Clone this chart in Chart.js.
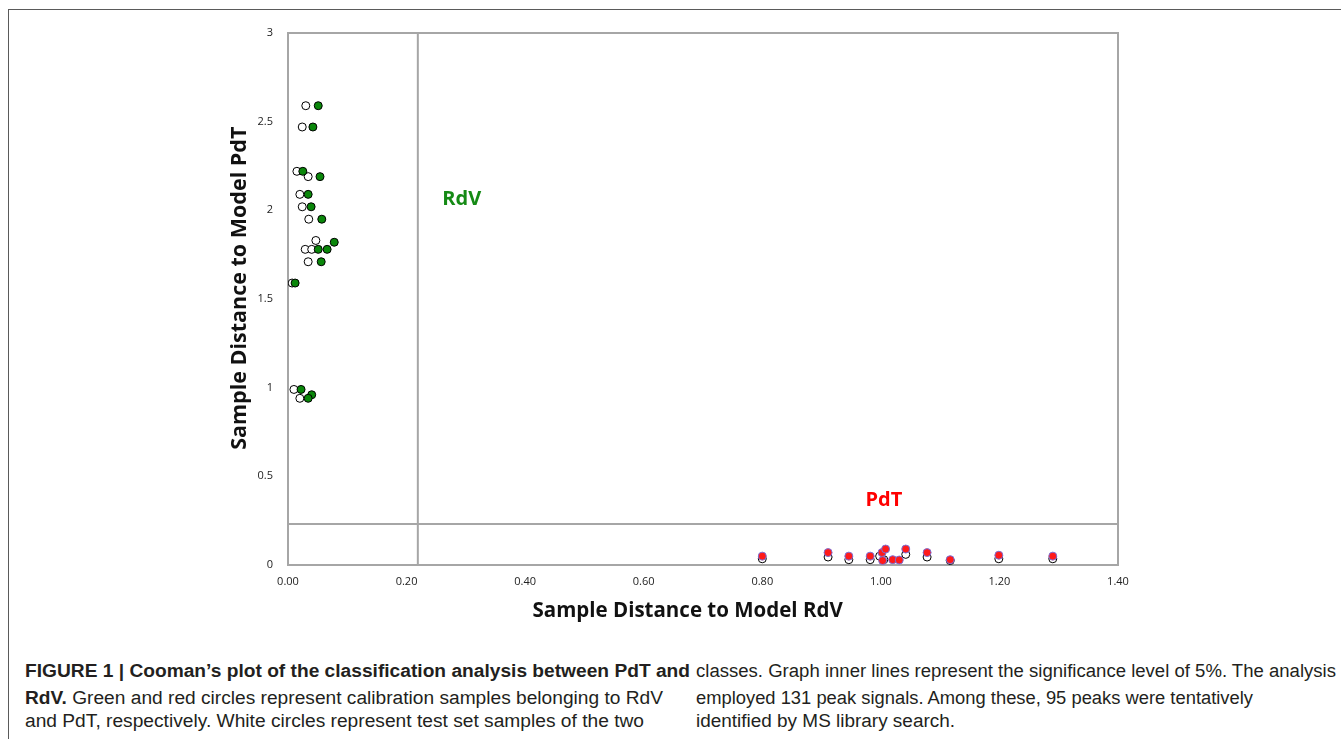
<!DOCTYPE html>
<html>
<head>
<meta charset="utf-8">
<script src="https://cdn.jsdelivr.net/npm/chart.js@4.4.1/dist/chart.umd.min.js"></script>
<style>
  html, body { margin: 0; padding: 0; background: #fff; }
  body { width: 1341px; height: 739px; position: relative; overflow: hidden; }
  #frame { position: absolute; left: 8px; top: 9px; width: 1340px; height: 740px;
           border-top: 1.5px solid #5a5a5a; border-left: 1.5px solid #5a5a5a; }
  #wrap { position: absolute; left: 0; top: 0; width: 1341px; height: 640px; }
  .cap { position: absolute; font-family: "Liberation Sans", Arial, sans-serif;
         font-size: 18px; color: #231f20; white-space: nowrap; transform-origin: 0 50%; line-height: 20px; }
  .cap b { font-weight: bold; }
</style>
</head>
<body>
<div id="frame"></div>
<div id="wrap"><canvas id="c"></canvas></div>

<div class="cap" data-w="665" style="left:25px; top:661px;"><b>FIGURE 1 | Cooman’s plot of the classification analysis between PdT and</b></div>
<div class="cap" data-w="638" style="left:25px; top:688px;"><b>RdV.</b> Green and red circles represent calibration samples belonging to RdV</div>
<div class="cap" data-w="619" style="left:25px; top:711px;">and PdT, respectively. White circles represent test set samples of the two</div>
<div class="cap" data-w="640" style="left:696px; top:661px;">classes. Graph inner lines represent the significance level of 5%. The analysis</div>
<div class="cap" data-w="557" style="left:696px; top:688px;">employed 131 peak signals. Among these, 95 peaks were tentatively</div>
<div class="cap" data-w="259" style="left:696px; top:711px;">identified by MS library search.</div>

<script>
// ---- data ----
const rdvCalX  = [0.051, 0.042, 0.025, 0.054, 0.034, 0.039, 0.057, 0.078, 0.051, 0.066, 0.056, 0.012, 0.022, 0.040, 0.034];
const rdvCalY  = [2.59, 2.47, 2.22, 2.19, 2.09, 2.02, 1.95, 1.82, 1.78, 1.78, 1.71, 1.59, 0.99, 0.96, 0.94];
const rdvTestX = [0.030, 0.024, 0.015, 0.034, 0.020, 0.024, 0.035, 0.047, 0.029, 0.040, 0.034, 0.007, 0.010, 0.020];
const rdvTestY = [2.59, 2.47, 2.22, 2.19, 2.09, 2.02, 1.95, 1.83, 1.78, 1.78, 1.71, 1.59, 0.99, 0.94];
const pdtCalX  = [0.800, 0.911, 0.946, 0.982, 1.002, 1.008, 1.003, 1.020, 1.031, 1.042, 1.078, 1.117, 1.199, 1.290];
const pdtCalY  = [0.050, 0.070, 0.050, 0.050, 0.070, 0.090, 0.025, 0.030, 0.028, 0.090, 0.070, 0.030, 0.055, 0.050];
const pdtTestX = [0.800, 0.911, 0.946, 0.982, 0.998, 1.005, 1.042, 1.078, 1.117, 1.199, 1.290];
const pdtTestY = [0.035, 0.045, 0.030, 0.030, 0.050, 0.030, 0.060, 0.045, 0.025, 0.035, 0.035];
const critRdV = 0.219;   // significance limit, distance to model RdV
const critPdT = 0.231;   // significance limit, distance to model PdT
const xTicks = ["0.00", "0.20", "0.40", "0.60", "0.80", "1.00", "1.20", "1.40"];
const yTicks = ["0", "0.5", "1", "1.5", "2", "2.5", "3"];
const classLabels = ["RdV", "PdT"];
const classLabelX = [0.293, 1.005];
const classLabelY = [2.064, 0.367];
const classColors = ["#158a15", "#ff0000"];

const pts = (xs, ys) => xs.map((x, i) => ({ x: x, y: ys[i] }));

const labelPlugin = {
  id: 'classLabels',
  afterDatasetsDraw(chart) {
    const ctx = chart.ctx, sx = chart.scales.x, sy = chart.scales.y;
    ctx.save();
    ctx.font = 'bold 20px "Open Sans", sans-serif';
    ctx.textAlign = 'center';
    ctx.textBaseline = 'middle';
    classLabels.forEach((t, i) => {
      ctx.fillStyle = classColors[i];
      ctx.fillText(t, sx.getPixelForValue(classLabelX[i]), sy.getPixelForValue(classLabelY[i]));
    });
    ctx.restore();
  }
};

const gray = '#a6a6a6';
const tickFont = { family: '"Open Sans", sans-serif', size: 11 };
const titleFontX = { family: '"Open Sans", sans-serif', size: 20.5, weight: 'bold' };
const titleFontY = { family: '"Open Sans", sans-serif', size: 21.5, weight: 'bold' };

new Chart(document.getElementById('c'), {
  type: 'scatter',
  data: {
    datasets: [
      { label: 'RdV calibration', data: pts(rdvCalX, rdvCalY), backgroundColor: '#0a870a', borderColor: '#000', borderWidth: 1, pointRadius: 4, order: 0 },
      { label: 'PdT calibration', data: pts(pdtCalX, pdtCalY), backgroundColor: '#ff1a1a', borderColor: '#7b6fd6', borderWidth: 1, pointRadius: 4, order: 0 },
      { label: 'RdV test', data: pts(rdvTestX, rdvTestY), backgroundColor: '#fff', borderColor: '#000', borderWidth: 1, pointRadius: 4, order: 1 },
      { label: 'PdT test', data: pts(pdtTestX, pdtTestY), backgroundColor: '#fff', borderColor: '#000', borderWidth: 1, pointRadius: 4, order: 1 },
      { label: 'limit RdV', data: [{ x: critRdV, y: 0 }, { x: critRdV, y: 3 }], showLine: true, borderColor: gray, borderWidth: 2, pointRadius: 0, order: 2 },
      { label: 'limit PdT', data: [{ x: 0, y: critPdT }, { x: 1.4, y: critPdT }], showLine: true, borderColor: gray, borderWidth: 2, pointRadius: 0, order: 2 }
    ]
  },
  options: {
    responsive: true,
    maintainAspectRatio: false,
    animation: false,
    events: [],
    layout: { padding: { left: 227, right: 223, top: 33, bottom: 17 } },
    plugins: { legend: { display: false }, tooltip: { enabled: false } },
    scales: {
      x: {
        type: 'linear', min: 0, max: 1.4,
        afterFit: s => { s.height = 58; },
        afterBuildTicks: s => { s.ticks = xTicks.map(v => ({ value: parseFloat(v) })); },
        ticks: { callback: (v, i) => xTicks[i], color: '#222', font: tickFont, padding: 10, maxRotation: 0 },
        grid: { display: false, drawTicks: false },
        border: { display: true, color: gray, width: 2 },
        title: { display: true, text: 'Sample Distance to Model RdV\u2003\u2002', color: '#111', font: titleFontX, padding: 0 }
      },
      y: {
        type: 'linear', min: 0, max: 3,
        afterFit: s => { s.width = 61; },
        afterBuildTicks: s => { s.ticks = yTicks.map(v => ({ value: parseFloat(v) })); },
        ticks: { callback: (v, i) => yTicks[i], color: '#222', font: tickFont, padding: 15 },
        grid: { display: false, drawTicks: false },
        border: { display: true, color: gray, width: 2 },
        title: { display: true, text: '\u2003Sample Distance to Model PdT', color: '#111', font: titleFontY, padding: 0 }
      },
      x2: {
        type: 'linear', position: 'top', min: 0, max: 1.4,
        afterFit: s => { s.height = 0; },
        ticks: { display: false }, grid: { display: false, drawTicks: false },
        border: { display: true, color: gray, width: 2 }
      },
      y2: {
        type: 'linear', position: 'right', min: 0, max: 3,
        afterFit: s => { s.width = 0; },
        ticks: { display: false }, grid: { display: false, drawTicks: false },
        border: { display: true, color: gray, width: 2 }
      }
    }
  },
  plugins: [labelPlugin]
});

// fit caption lines to the reference widths
document.querySelectorAll('.cap').forEach(el => {
  const w = el.getBoundingClientRect().width;
  const target = parseFloat(el.dataset.w);
  if (w > 0) el.style.transform = 'scaleX(' + (target / w) + ')';
});
</script>
</body>
</html>
